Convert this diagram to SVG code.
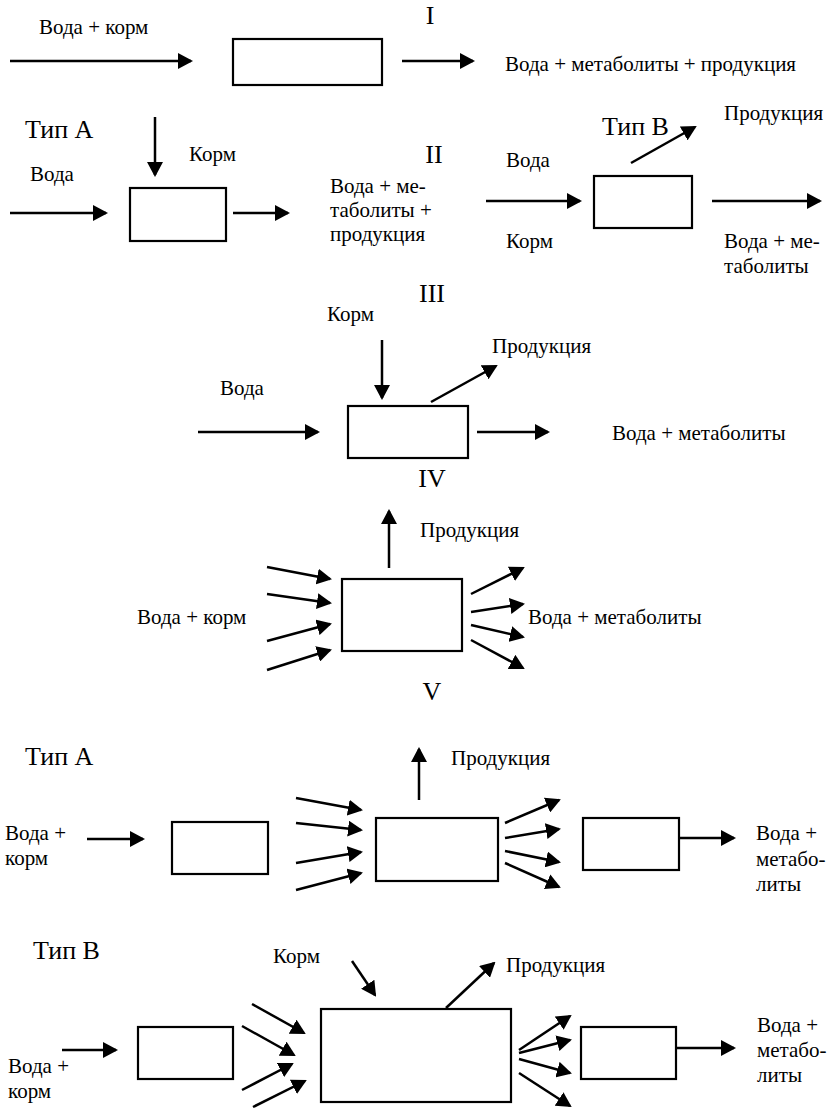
<svg xmlns="http://www.w3.org/2000/svg" width="828" height="1110" viewBox="0 0 828 1110">
<defs>
<style>
text{font-family:"Liberation Serif","Times New Roman",Tinos,serif;fill:#000}
.lb{font-size:21px}
.hd{font-size:26px}
.mid{text-anchor:middle}
.box{fill:#fff;stroke:#000;stroke-width:2.2}
#connectors line{stroke:#000;stroke-width:2.5;marker-end:url(#ah)}
</style>
<marker id="ah" markerUnits="userSpaceOnUse" viewBox="0 0 15 16" markerWidth="15" markerHeight="16" refX="13" refY="8" orient="auto">
<path d="M0,0 L15,8 L0,16 z" fill="#000"/>
</marker>
</defs>
<rect x="0" y="0" width="828" height="1110" fill="#fff"/>

<g id="labels">
<text class="hd mid" x="430" y="24">I</text>
<text class="hd mid" x="434" y="163">II</text>
<text class="hd mid" x="432" y="302">III</text>
<text class="hd mid" x="432" y="487">IV</text>
<text class="hd mid" x="432" y="700">V</text>
<text class="hd" x="25" y="138">Тип А</text>
<text class="hd" x="602" y="135">Тип В</text>
<text class="hd" x="25" y="765">Тип А</text>
<text class="hd" x="33" y="959">Тип В</text>
</g>

<g id="s1">
<text class="lb" x="39" y="34">Вода + корм</text>
<text class="lb" x="505" y="71">Вода + метаболиты + продукция</text>
</g>
<g id="node-s1"><rect class="box" x="233" y="39" width="149" height="46"/></g>

<g id="s2a">
<text class="lb" x="189" y="161">Корм</text>
<text class="lb" x="30" y="181">Вода</text>
<text class="lb" x="330" y="193">Вода + ме-</text>
<text class="lb" x="330" y="217">таболиты +</text>
<text class="lb" x="330" y="241">продукция</text>
</g>
<g id="node-s2a"><rect class="box" x="130" y="188" width="96" height="53"/></g>

<g id="s2b">
<text class="lb" x="724" y="120">Продукция</text>
<text class="lb" x="506" y="167">Вода</text>
<text class="lb" x="506" y="248">Корм</text>
<text class="lb" x="724" y="248">Вода + ме-</text>
<text class="lb" x="724" y="273">таболиты</text>
</g>
<g id="node-s2b"><rect class="box" x="594" y="176" width="98" height="52"/></g>

<g id="s3">
<text class="lb" x="327" y="321">Корм</text>
<text class="lb" x="492" y="353">Продукция</text>
<text class="lb" x="220" y="395">Вода</text>
<text class="lb" x="612" y="440">Вода + метаболиты</text>
</g>
<g id="node-s3"><rect class="box" x="348" y="406" width="120" height="52"/></g>

<g id="s4">
<text class="lb" x="420" y="537">Продукция</text>
<text class="lb" x="137" y="624">Вода + корм</text>
<text class="lb" x="528" y="624">Вода + метаболиты</text>
</g>
<g id="node-s4"><rect class="box" x="342" y="579" width="120" height="72"/></g>

<g id="s5a">
<text class="lb" x="451" y="765">Продукция</text>
<text class="lb" x="5" y="840">Вода +</text>
<text class="lb" x="5" y="865">корм</text>
<text class="lb" x="756" y="840">Вода +</text>
<text class="lb" x="756" y="866">метабо-</text>
<text class="lb" x="756" y="891">литы</text>
</g>
<g id="node-s5a-1"><rect class="box" x="172" y="822" width="96" height="52"/></g>
<g id="node-s5a-2"><rect class="box" x="376" y="818" width="122" height="63"/></g>
<g id="node-s5a-3"><rect class="box" x="583" y="818" width="96" height="52"/></g>

<g id="s5b">
<text class="lb" x="273" y="963">Корм</text>
<text class="lb" x="506" y="972">Продукция</text>
<text class="lb" x="8" y="1073">Вода +</text>
<text class="lb" x="8" y="1098">корм</text>
<text class="lb" x="757" y="1032">Вода +</text>
<text class="lb" x="757" y="1057">метабо-</text>
<text class="lb" x="757" y="1082">литы</text>
</g>
<g id="node-s5b-1"><rect class="box" x="138" y="1027" width="95" height="52"/></g>
<g id="node-s5b-2"><rect class="box" x="321" y="1009" width="190" height="93"/></g>
<g id="node-s5b-3"><rect class="box" x="581" y="1027" width="95" height="52"/></g>

<g id="connectors">
<line x1="10" y1="61" x2="191" y2="61"/>
<line x1="402" y1="61" x2="473" y2="61"/>
<line x1="155" y1="117" x2="155" y2="175"/>
<line x1="10" y1="213" x2="106" y2="213"/>
<line x1="233" y1="213" x2="288" y2="213"/>
<line x1="486" y1="201" x2="580" y2="201"/>
<line x1="631" y1="163" x2="695" y2="127"/>
<line x1="712" y1="201" x2="820" y2="201"/>
<line x1="382" y1="340" x2="382" y2="398"/>
<line x1="431" y1="402" x2="496" y2="366"/>
<line x1="198" y1="432" x2="318" y2="432"/>
<line x1="477" y1="432" x2="548" y2="432"/>
<line x1="389" y1="568" x2="389" y2="511"/>
<line x1="267" y1="567" x2="330" y2="579"/>
<line x1="267" y1="594" x2="330" y2="603"/>
<line x1="267" y1="641" x2="330" y2="624"/>
<line x1="267" y1="670" x2="330" y2="650"/>
<line x1="471" y1="594" x2="523" y2="568"/>
<line x1="471" y1="612" x2="523" y2="604"/>
<line x1="471" y1="625" x2="523" y2="637"/>
<line x1="471" y1="640" x2="523" y2="668"/>
<line x1="87" y1="839" x2="143" y2="839"/>
<line x1="296" y1="798" x2="361" y2="810"/>
<line x1="296" y1="823" x2="361" y2="830"/>
<line x1="296" y1="863" x2="361" y2="852"/>
<line x1="296" y1="890" x2="361" y2="873"/>
<line x1="419" y1="800" x2="419" y2="749"/>
<line x1="505" y1="823" x2="559" y2="800"/>
<line x1="505" y1="838" x2="559" y2="829"/>
<line x1="505" y1="851" x2="559" y2="862"/>
<line x1="505" y1="863" x2="559" y2="887"/>
<line x1="679" y1="838" x2="734" y2="838"/>
<line x1="62" y1="1050" x2="116" y2="1050"/>
<line x1="352" y1="961" x2="375" y2="995"/>
<line x1="252" y1="1004" x2="304" y2="1033"/>
<line x1="242" y1="1026" x2="294" y2="1055"/>
<line x1="242" y1="1090" x2="292" y2="1064"/>
<line x1="253" y1="1107" x2="305" y2="1081"/>
<line x1="446" y1="1008" x2="494" y2="963"/>
<line x1="519" y1="1050" x2="570" y2="1016"/>
<line x1="519" y1="1053" x2="570" y2="1040"/>
<line x1="519" y1="1059" x2="570" y2="1073"/>
<line x1="519" y1="1073" x2="570" y2="1106"/>
<line x1="676" y1="1048" x2="734" y2="1048"/>
</g>
</svg>
